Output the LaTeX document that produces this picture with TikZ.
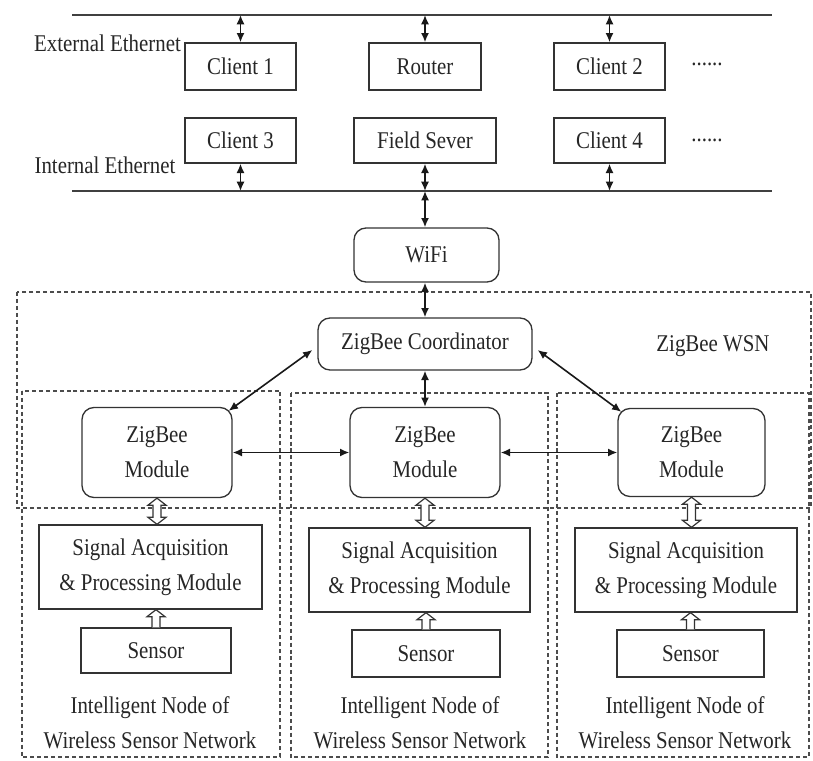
\documentclass[tikz,border=0pt]{standalone}
\usepackage{fontspec}
\setmainfont{Liberation Serif}[FakeStretch=0.87]
\usetikzlibrary{arrows.meta,calc}
\begin{document}
\begin{tikzpicture}[x=0.75pt,y=-0.75pt,
  every node/.style={font=\fontsize{18}{26.25}\selectfont, text=black!85},
  box/.style={draw=black!80, line width=1pt, inner sep=0pt, align=center},
  rbox/.style={box, rounded corners=9pt},
  sz/.style 2 args={minimum width=#1*0.75pt, minimum height=#2*0.75pt},
  dbox/.style={draw=black!70, line width=0.9pt, dash pattern=on 3pt off 2.2pt},
  eth/.style={draw=black!75, line width=1.4pt},
  bi/.style={draw=black!90, line width=1.2pt, {Latex[length=7pt,width=6pt]}-{Latex[length=7pt,width=6pt]}},
  hollow/.style={draw=black!80, line width=0.9pt, fill=white},
  lbl/.style={inner sep=0pt, align=center}]
\useasboundingbox (0,0) rectangle (813,760);

% dashed groups
\draw[dbox] (17,292) rectangle (811,508);
\draw[dbox] (22,391) rectangle (280,757);
\draw[dbox] (291,393) rectangle (548,757);
\draw[dbox] (557,393) rectangle (809,757);

% ethernet lines
\coordinate (tl) at (72,15);
\coordinate (tr) at (772,15);
\coordinate (bl) at (72,191);
\coordinate (br) at (772,191);
\draw[eth] (tl) -- (tr);
\draw[eth] (bl) -- (br);

% top nodes
\node[box,sz={111}{47}] (c1) at (240.5,66.5) {Client 1};
\node[box,sz={112}{47}] (rt) at (425,66.5) {Router};
\node[box,sz={111}{47}] (c2) at (609.5,66.5) {Client 2};
\node[box,sz={111}{45}] (c3) at (240.5,140.5) {Client 3};
\node[box,sz={142}{45}] (fs) at (425,140.5) {Field Sever};
\node[box,sz={111}{45}] (c4) at (609.5,140.5) {Client 4};
\node[lbl] (d1) at (707,64) {......};
\node[lbl] (d2) at (707,140) {......};
\node[lbl] (ext) at (107.5,43) {External Ethernet};
\node[lbl] (int) at (105,165) {Internal Ethernet};

\node[rbox,sz={145}{54}] (wifi) at (426.5,255) {WiFi};
\node[rbox,sz={214}{52}] (co) at (425,344) {ZigBee Coordinator};
\node[lbl] (wsn) at (713,346) {ZigBee WSN};

\node[rbox,sz={150}{90}] (m1) at (157,452.5) {ZigBee\\Module};
\node[rbox,sz={150}{90}] (m2) at (425,452.5) {ZigBee\\Module};
\node[rbox,sz={147}{88}] (m3) at (691.5,452.5) {ZigBee\\Module};

\node[box,sz={223}{84}] (s1) at (150.5,567) {Signal Acquisition\\\& Processing Module};
\node[box,sz={221}{84}] (s2) at (419.5,570) {Signal Acquisition\\\& Processing Module};
\node[box,sz={222}{84}] (s3) at (686,570) {Signal Acquisition\\\& Processing Module};

\node[box,sz={150}{45}] (n1) at (156,650.5) {Sensor};
\node[box,sz={148}{47}] (n2) at (426,653.5) {Sensor};
\node[box,sz={147}{47}] (n3) at (690.5,653.5) {Sensor};

\node[lbl] (l1) at (150,722.5) {Intelligent Node of\\Wireless Sensor Network};
\node[lbl] (l2) at (420,722.5) {Intelligent Node of\\Wireless Sensor Network};
\node[lbl] (l3) at (685,722.5) {Intelligent Node of\\Wireless Sensor Network};

% ethernet connectors
\draw[bi] (c1.north |- tl) -- (c1.north);
\draw[bi] (rt.north |- tl) -- (rt.north);
\draw[bi] (c2.north |- tl) -- (c2.north);
\draw[bi] (c3.south) -- (c3.south |- bl);
\draw[bi] (fs.south) -- (fs.south |- bl);
\draw[bi] (c4.south) -- (c4.south |- bl);
\draw[bi] (fs.south |- bl) -- (fs.south |- wifi.north);
\draw[bi] (wifi.south -| co.north) -- (co.north);

% zigbee connectors
\draw[bi] (co.south) -- (m2.north);
\draw[bi] ($(co.west)+(-5,6)$) -- ($(m1.north east)+(-4,4)$);
\draw[bi] ($(co.east)+(5,6)$) -- ($(m3.north west)+(4,4)$);
\draw[bi] (m1.east) -- (m2.west);
\draw[bi] (m2.east) -- (m3.west);

% hollow double arrows module <-> signal
\foreach \ma/\sa in {m1/s1,m2/s2,m3/s3}{
  \draw[hollow] let \p1=(\ma.south), \p2=(\sa.north -| \ma.south) in
    (\x1,\y1) -- (\x1+6.75pt,\y1-5.25pt) -- (\x1+3pt,\y1-5.25pt) -- (\x1+3pt,\y2+5.25pt)
    -- (\x1+6.75pt,\y2+5.25pt) -- (\x2,\y2) -- (\x1-6.75pt,\y2+5.25pt) -- (\x1-3pt,\y2+5.25pt)
    -- (\x1-3pt,\y1-5.25pt) -- (\x1-6.75pt,\y1-5.25pt) -- cycle;
}
% hollow single arrows sensor -> signal
\foreach \na/\sa in {n1/s1,n2/s2,n3/s3}{
  \draw[hollow] let \p1=(\na.north), \p2=(\sa.south -| \na.north) in
    (\x1-3pt,\y1) -- (\x1-3pt,\y2-5.25pt) -- (\x1-6.75pt,\y2-5.25pt) -- (\x2,\y2)
    -- (\x1+6.75pt,\y2-5.25pt) -- (\x1+3pt,\y2-5.25pt) -- (\x1+3pt,\y1);
}
\end{tikzpicture}
\end{document}
